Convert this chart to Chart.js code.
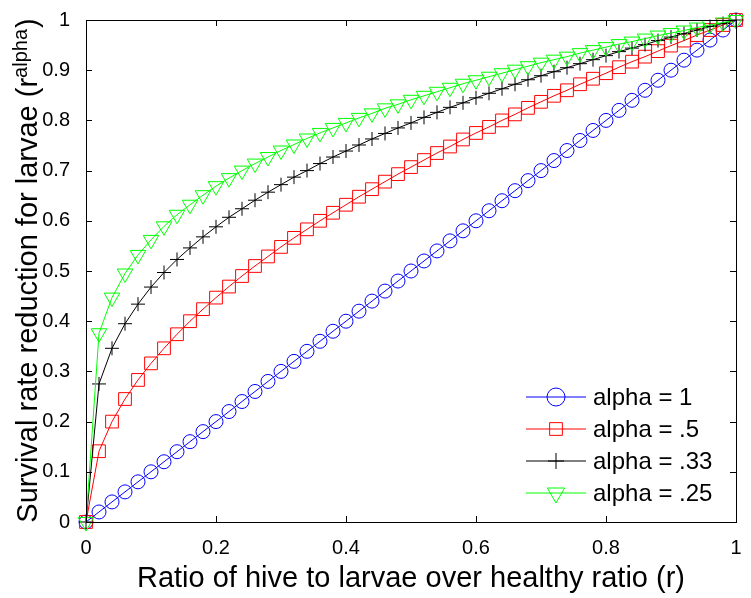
<!DOCTYPE html>
<html lang="en">
<head>
    <meta charset="UTF-8">
    <title>Survival rate reduction for larvae</title>
    <script src="https://cdn.jsdelivr.net/npm/chart.js"></script>
    <style>
        body { margin: 0; background: #fff; }
        #wrap { width: 751px; height: 598px; }
    </style>
</head>
<body>
<div id="wrap">
    <canvas id="chart" width="751" height="598"></canvas>
</div>

<script>
    // ratio r (51 points, every 0.02)
    const ratios = [0, 0.02, 0.04, 0.06, 0.08, 0.10, 0.12, 0.14, 0.16, 0.18,
        0.20, 0.22, 0.24, 0.26, 0.28, 0.30, 0.32, 0.34, 0.36, 0.38,
        0.40, 0.42, 0.44, 0.46, 0.48, 0.50, 0.52, 0.54, 0.56, 0.58,
        0.60, 0.62, 0.64, 0.66, 0.68, 0.70, 0.72, 0.74, 0.76, 0.78,
        0.80, 0.82, 0.84, 0.86, 0.88, 0.90, 0.92, 0.94, 0.96, 0.98, 1];

    const alpha1 = [0, 0.02, 0.04, 0.06, 0.08, 0.10, 0.12, 0.14, 0.16, 0.18,
        0.20, 0.22, 0.24, 0.26, 0.28, 0.30, 0.32, 0.34, 0.36, 0.38,
        0.40, 0.42, 0.44, 0.46, 0.48, 0.50, 0.52, 0.54, 0.56, 0.58,
        0.60, 0.62, 0.64, 0.66, 0.68, 0.70, 0.72, 0.74, 0.76, 0.78,
        0.80, 0.82, 0.84, 0.86, 0.88, 0.90, 0.92, 0.94, 0.96, 0.98, 1];

    const alpha05 = [0, 0.141, 0.200, 0.245, 0.283, 0.316, 0.346, 0.374, 0.400, 0.424,
        0.447, 0.469, 0.490, 0.510, 0.529, 0.548, 0.566, 0.583, 0.600, 0.616,
        0.632, 0.648, 0.663, 0.678, 0.693, 0.707, 0.721, 0.735, 0.748, 0.762,
        0.775, 0.787, 0.800, 0.812, 0.825, 0.837, 0.849, 0.860, 0.872, 0.883,
        0.894, 0.906, 0.917, 0.927, 0.938, 0.949, 0.959, 0.970, 0.980, 0.990, 1];

    const alpha033 = [0, 0.275, 0.346, 0.395, 0.434, 0.468, 0.497, 0.523, 0.546, 0.568,
        0.588, 0.607, 0.624, 0.641, 0.657, 0.672, 0.687, 0.700, 0.714, 0.727,
        0.739, 0.751, 0.763, 0.774, 0.785, 0.795, 0.806, 0.816, 0.826, 0.835,
        0.845, 0.854, 0.863, 0.872, 0.881, 0.889, 0.897, 0.905, 0.913, 0.921,
        0.929, 0.937, 0.944, 0.951, 0.959, 0.966, 0.973, 0.980, 0.987, 0.993, 1];

    const alpha025 = [0, 0.376, 0.447, 0.495, 0.532, 0.562, 0.589, 0.612, 0.632, 0.651,
        0.669, 0.685, 0.700, 0.714, 0.727, 0.740, 0.752, 0.764, 0.775, 0.785,
        0.795, 0.805, 0.814, 0.824, 0.832, 0.841, 0.849, 0.857, 0.865, 0.873,
        0.880, 0.887, 0.894, 0.901, 0.908, 0.915, 0.921, 0.927, 0.934, 0.940,
        0.946, 0.952, 0.957, 0.963, 0.969, 0.974, 0.979, 0.985, 0.990, 0.995, 1];

    const seriesNames = ['alpha = 1', 'alpha = .5', 'alpha = .33', 'alpha = .25'];
    const xTickLabels = ['0', '0.2', '0.4', '0.6', '0.8', '1'];
    const yTickLabels = ['0', '0.1', '0.2', '0.3', '0.4', '0.5', '0.6', '0.7', '0.8', '0.9', '1'];

    const FONT = '"Liberation Sans", Arial, Helvetica, sans-serif';

    function toPoints(ys) {
        return ratios.map((r, i) => ({ x: r, y: ys[i] }));
    }

    const styles = [
        { color: '#0000ff', pointStyle: 'circle', radius: 7, rotation: 0, legendRadius: 9, order: 4 },
        { color: '#ff0000', pointStyle: 'rect', radius: 9, rotation: 0, legendRadius: 9, order: 3 },
        { color: '#000000', pointStyle: 'cross', radius: 7, rotation: 0, legendRadius: 8, order: 2 },
        { color: '#00ff00', pointStyle: 'triangle', radius: 9, rotation: 180, legendRadius: 10, order: 1 }
    ];
    const allValues = [alpha1, alpha05, alpha033, alpha025];

    const datasets = allValues.map((vals, i) => ({
        label: seriesNames[i],
        data: toPoints(vals),
        showLine: true,
        borderColor: styles[i].color,
        borderWidth: 1,
        pointStyle: styles[i].pointStyle,
        pointRadius: styles[i].radius,
        pointRotation: styles[i].rotation,
        pointBorderColor: styles[i].color,
        pointBackgroundColor: 'rgba(0,0,0,0)',
        pointBorderWidth: 1,
        order: styles[i].order,
        clip: false
    }));

    // frame, inward ticks, axis titles and legend, matlab style
    const decorations = {
        id: 'decorations',
        afterDraw(chart) {
            const ctx = chart.ctx;
            const a = chart.chartArea;
            const xs = chart.scales.x, ys = chart.scales.y;
            const tl = 6;
            ctx.save();
            ctx.strokeStyle = '#000';
            ctx.lineWidth = 1;
            ctx.strokeRect(Math.round(a.left) + 0.5, Math.round(a.top) + 0.5,
                Math.round(a.right - a.left), Math.round(a.bottom - a.top));
            ctx.beginPath();
            xs.ticks.forEach(t => {
                const px = Math.round(xs.getPixelForValue(t.value)) + 0.5;
                ctx.moveTo(px, a.bottom); ctx.lineTo(px, a.bottom - tl);
                ctx.moveTo(px, a.top); ctx.lineTo(px, a.top + tl);
            });
            ys.ticks.forEach(t => {
                const py = Math.round(ys.getPixelForValue(t.value)) + 0.5;
                ctx.moveTo(a.left, py); ctx.lineTo(a.left + tl, py);
                ctx.moveTo(a.right, py); ctx.lineTo(a.right - tl, py);
            });
            ctx.stroke();

            // x title
            ctx.fillStyle = '#000';
            ctx.font = '29px ' + FONT;
            ctx.textAlign = 'center';
            ctx.textBaseline = 'alphabetic';
            ctx.fillText('Ratio of hive to larvae over healthy ratio (r)', (a.left + a.right) / 2, 587);

            // y title with superscript
            const main = 'Survival rate reduction for larvae (r';
            const sup = 'alpha';
            ctx.font = '29px ' + FONT;
            const wMain = ctx.measureText(main).width;
            const wClose = ctx.measureText(')').width;
            ctx.font = '20px ' + FONT;
            const wSup = ctx.measureText(sup).width;
            const total = wMain + wSup + wClose;
            ctx.translate(37, (a.top + a.bottom) / 2);
            ctx.rotate(-Math.PI / 2);
            ctx.textAlign = 'left';
            let x0 = -total / 2;
            ctx.font = '29px ' + FONT;
            ctx.fillText(main, x0, 0);
            ctx.font = '20px ' + FONT;
            ctx.fillText(sup, x0 + wMain, -10);
            ctx.font = '29px ' + FONT;
            ctx.fillText(')', x0 + wMain + wSup + 1, 0);
            ctx.restore();

            // legend
            const rowY = [397, 429, 461, 493];
            chart.data.datasets.forEach((ds, i) => {
                const y = rowY[i];
                const col = styles[i].color;
                ctx.save();
                ctx.strokeStyle = col;
                ctx.lineWidth = 1;
                ctx.beginPath();
                ctx.moveTo(526, y);
                ctx.lineTo(586, y);
                ctx.stroke();
                ctx.fillStyle = 'rgba(0,0,0,0)';
                Chart.helpers.drawPoint(ctx, {
                    pointStyle: styles[i].pointStyle,
                    radius: styles[i].legendRadius,
                    rotation: styles[i].rotation,
                    borderWidth: 1
                }, 556, y);
                ctx.restore();
                ctx.save();
                ctx.fillStyle = '#000';
                ctx.font = '24px ' + FONT;
                ctx.textAlign = 'left';
                ctx.textBaseline = 'middle';
                ctx.fillText(ds.label, 593, y + 1);
                ctx.restore();
            });
        }
    };

    new Chart(document.getElementById('chart'), {
        type: 'scatter',
        data: { datasets: datasets },
        options: {
            responsive: false,
            animation: false,
            devicePixelRatio: 1,
            layout: { padding: { left: 0, top: 12, right: 15, bottom: 0 } },
            plugins: {
                legend: { display: false },
                tooltip: { enabled: false }
            },
            scales: {
                x: {
                    type: 'linear',
                    min: 0,
                    max: 1,
                    grid: { display: false },
                    border: { display: false },
                    ticks: {
                        stepSize: 0.2,
                        padding: 6,
                        color: '#000',
                        font: { size: 20, family: FONT },
                        callback: (v, i) => xTickLabels[i]
                    },
                    afterFit: s => { s.height = 76; }
                },
                y: {
                    type: 'linear',
                    min: 0,
                    max: 1,
                    grid: { display: false },
                    border: { display: false },
                    ticks: {
                        stepSize: 0.1,
                        padding: 8,
                        color: '#000',
                        font: { size: 20, family: FONT },
                        callback: (v, i) => yTickLabels[i]
                    },
                    afterFit: s => { s.width = 86; }
                }
            }
        },
        plugins: [decorations]
    });
</script>
</body>
</html>
